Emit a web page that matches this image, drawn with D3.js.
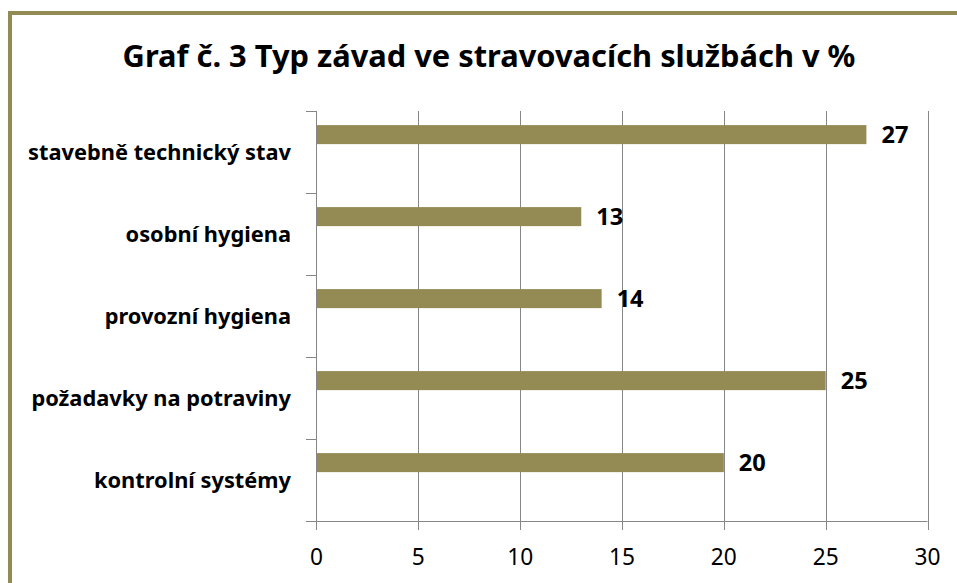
<!DOCTYPE html>
<html><head><meta charset="utf-8">
<script src="https://cdn.jsdelivr.net/npm/d3@7"></script>
<style>html,body{margin:0;padding:0;background:#fff;overflow:hidden}</style>
</head><body>
<script>
const titleText = "Graf č. 3 Typ závad ve stravovacích službách v %";
const categories = ["stavebně technický stav","osobní hygiena","provozní hygiena","požadavky na potraviny","kontrolní systémy"];
const values = [27,13,14,25,20];
const xTicks = [0,5,10,15,20,25,30];

const W = 957, H = 583;
const olive = "#948A54", grid = "#868686";
const font = "'Noto Sans', 'DejaVu Sans', sans-serif";
const svg = d3.select("body").append("svg").attr("width", W).attr("height", H);
svg.append("rect").attr("width", W).attr("height", H).attr("fill", "#fff");

// font size such that a sample string has a given width
function fitSize(str, weight, targetW) {
  const t = svg.append("text").attr("font-family", font).attr("font-weight", weight)
    .attr("font-size", 20).text(str);
  const w = t.node().getComputedTextLength();
  t.remove();
  return 20 * targetW / w;
}
const titleSize = fitSize(titleText, "bold", 733);
const catSize = fitSize(categories[0], "bold", 263);
const valSize = fitSize("27", "bold", 27);
const tickSize = fitSize("10", "normal", 26);

// border
svg.append("rect").attr("x", 10).attr("y", 13).attr("width", W + 20).attr("height", H + 20)
  .attr("fill", "none").attr("stroke", olive).attr("stroke-width", 4);

svg.append("text").attr("x", 489).attr("y", 67).attr("text-anchor", "middle")
  .attr("font-family", font).attr("font-weight", "bold").attr("font-size", titleSize)
  .attr("fill", "#000").text(titleText);

const x = d3.scaleLinear().domain([0, 30]).range([316.5, 927.5]);
const y = d3.scaleBand().domain(categories).range([111, 521]).padding(0);
const bw = y.bandwidth();

const g = svg.append("g");
// gridlines
g.selectAll("line.grid").data(xTicks.slice(1)).join("line")
  .attr("x1", d => Math.round(x(d)) + 0.5).attr("x2", d => Math.round(x(d)) + 0.5)
  .attr("y1", 111).attr("y2", 530).attr("stroke", grid).attr("stroke-width", 1);
// axes
g.append("line").attr("x1", x(0)).attr("x2", x(30)).attr("y1", 521.5).attr("y2", 521.5)
  .attr("stroke", grid).attr("stroke-width", 1);
g.append("line").attr("x1", 316.5).attr("x2", 316.5).attr("y1", 111).attr("y2", 530)
  .attr("stroke", grid).attr("stroke-width", 1);
g.selectAll("text.xt").data(xTicks).join("text")
  .attr("x", d => x(d)).attr("y", 565).attr("text-anchor", "middle")
  .attr("font-family", font).attr("font-size", tickSize).attr("fill", "#000").text(d => d);
// left ticks
const bounds = categories.map(c => y(c)).concat([521]);
g.selectAll("line.yt").data(bounds).join("line")
  .attr("x1", 306).attr("x2", 316.5).attr("y1", d => Math.round(d) + 0.5).attr("y2", d => Math.round(d) + 0.5)
  .attr("stroke", grid).attr("stroke-width", 1);
// bars
g.selectAll("rect.bar").data(categories).join("rect")
  .attr("x", x(0) + 0.5).attr("y", d => y(d) + bw * 0.172)
  .attr("width", (d, i) => x(values[i]) - x(0) - 0.5).attr("height", bw * 0.232)
  .attr("fill", olive);
// value labels
g.selectAll("text.val").data(categories).join("text")
  .attr("x", (d, i) => x(values[i]) + 15).attr("y", d => y(d) + bw * 0.288 + 8)
  .attr("font-family", font).attr("font-weight", "bold").attr("font-size", valSize)
  .attr("fill", "#000").text((d, i) => values[i]);
// category labels
g.selectAll("text.cat").data(categories).join("text")
  .attr("x", 291).attr("y", d => y(d) + bw / 2 + 8).attr("text-anchor", "end")
  .attr("font-family", font).attr("font-weight", "bold").attr("font-size", catSize)
  .attr("fill", "#000").text(d => d);
</script>
</body></html>
